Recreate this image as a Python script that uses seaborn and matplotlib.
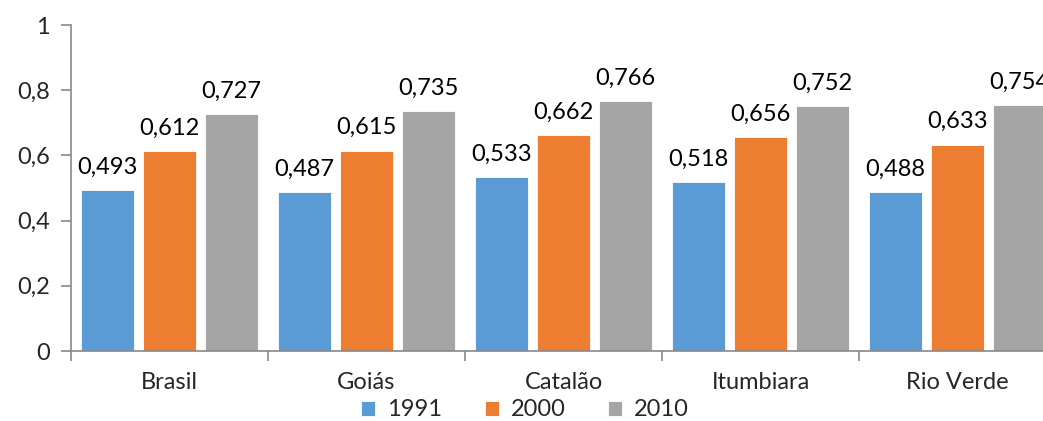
import matplotlib
matplotlib.use("Agg")
import matplotlib.pyplot as plt
import seaborn as sns
import pandas as pd

categories = ["Brasil", "Goiás", "Catalão", "Itumbiara", "Rio Verde"]
years = ["1991", "2000", "2010"]
v1991 = [0.493, 0.487, 0.533, 0.518, 0.488]
v2000 = [0.612, 0.615, 0.662, 0.656, 0.633]
v2010 = [0.727, 0.735, 0.766, 0.752, 0.754]
yticks = [0, 0.2, 0.4, 0.6, 0.8, 1]
ytick_labels = ["0", "0,2", "0,4", "0,6", "0,8", "1"]

rows = []
for yr, vals in zip(years, [v1991, v2000, v2010]):
    for c, v in zip(categories, vals):
        rows.append({"cat": c, "year": yr, "val": v})
df = pd.DataFrame(rows)

sns.set_style("white")
plt.rcParams["font.family"] = ["Lato", "DejaVu Sans"]

FS = 17
colors = ["#5B9BD5", "#ED7D31", "#A5A5A5"]
fig = plt.figure(figsize=(10.43, 4.21), dpi=100)
ax = fig.add_axes([71 / 1043, 70 / 421, 985 / 1043, 326 / 421])

sns.barplot(data=df, x="cat", y="val", hue="year", order=categories,
            hue_order=years, palette=colors, width=0.945, gap=0.15,
            saturation=1, ax=ax, legend=True, edgecolor="white", linewidth=0.6)

for cont in ax.containers:
    ax.bar_label(cont, labels=[f"{v:.3f}".replace(".", ",") for v in cont.datavalues],
                 padding=9, fontsize=FS, color="#000000")

ax.set_ylim(0, 1)
ax.set_xlim(-0.5, 4.5)
ax.set_yticks(yticks)
ax.set_yticklabels(ytick_labels, fontsize=FS)
ax.set_xticks(range(len(categories)))
ax.set_xticklabels(categories, fontsize=FS)
ax.tick_params(axis="x", length=0, pad=15)
ax.tick_params(axis="y", length=7, width=1.2, color="#898989", pad=8, left=True)
ax.set_xticks([-0.5, 0.5, 1.5, 2.5, 3.5, 4.5], minor=True)
ax.tick_params(axis="x", which="minor", length=7, width=1.2, color="#898989", bottom=True)
ax.set_xlabel("")
ax.set_ylabel("")
for s in ["top", "right"]:
    ax.spines[s].set_visible(False)
for s in ["left", "bottom"]:
    ax.spines[s].set_color("#898989")
    ax.spines[s].set_linewidth(1.2)

handles, labels = ax.get_legend_handles_labels()
ax.legend(handles, labels, loc="center", bbox_to_anchor=(525 / 1043, 11 / 421),
          bbox_transform=fig.transFigure, ncol=3, frameon=False, fontsize=FS,
          handlelength=0.6, handleheight=0.6, handletextpad=0.5, columnspacing=1.8)

fig.savefig("out.png", dpi=100)
